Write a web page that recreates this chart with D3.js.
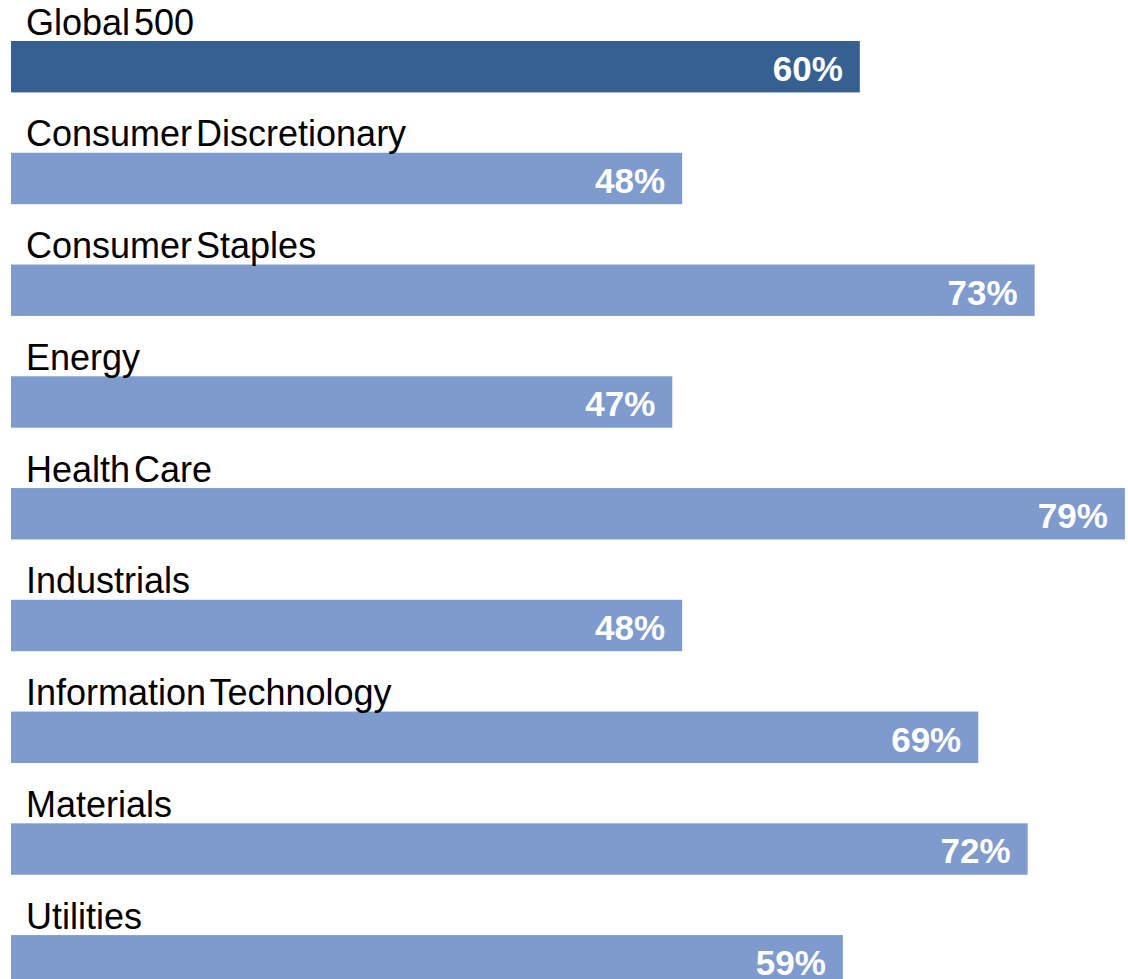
<!DOCTYPE html>
<html>
<head>
<meta charset="utf-8">
<script src="https://cdn.jsdelivr.net/npm/d3@7"></script>
<style>
  html, body { margin: 0; padding: 0; background: #fff; }
  svg { display: block; }
</style>
</head>
<body>
<svg id="chart"></svg>
<script>
// Share of companies per sector (%)
const categories = [
  'Global 500',
  'Consumer Discretionary',
  'Consumer Staples',
  'Energy',
  'Health Care',
  'Industrials',
  'Information Technology',
  'Materials',
  'Utilities',
];
const values = [60.2, 47.6, 72.6, 46.9, 79.0, 47.6, 68.6, 72.1, 59.0];
const highlight = ['Global 500'];

const width = 1128;
const height = 979;

const svg = d3.select('#chart')
  .attr('width', width)
  .attr('height', height);

const data = categories.map((c, i) => ({ name: c, value: values[i] }));

// scales
const x = d3.scaleLinear()
  .domain([0, 80])
  .range([11, 11 + 80 * 14.1]);

const y = d3.scaleBand()
  .domain(categories)
  .range([41, 986.5])
  .paddingInner(0.54)
  .paddingOuter(0);

const fmt = (v) => `${Math.round(v)}%`;

const rows = svg.selectAll('.row')
  .data(data)
  .enter()
  .append('g')
  .attr('class', 'row');

// bars
rows.append('rect')
  .attr('x', x(0))
  .attr('y', (d) => y(d.name))
  .attr('width', (d) => x(d.value) - x(0))
  .attr('height', y.bandwidth())
  .attr('fill', (d) => highlight.includes(d.name) ? '#366092' : '#7F9ACC');

// category labels above bars
rows.append('text')
  .attr('x', 26)
  .attr('y', (d) => y(d.name) - 6.5)
  .style('font-family', '"Liberation Sans", Arial, sans-serif')
  .style('font-size', '36px')
  .style('word-spacing', '-6px')
  .attr('fill', '#000')
  .text((d) => d.name);

// value labels inside bars
rows.append('text')
  .attr('x', (d) => x(d.value) - 17)
  .attr('y', (d) => y(d.name) + 40)
  .style('font-family', '"Liberation Sans", Arial, sans-serif')
  .style('font-size', '35px')
  .style('font-weight', 'bold')
  .style('text-anchor', 'end')
  .attr('fill', '#fff')
  .text((d) => fmt(d.value));
</script>
</body>
</html>
